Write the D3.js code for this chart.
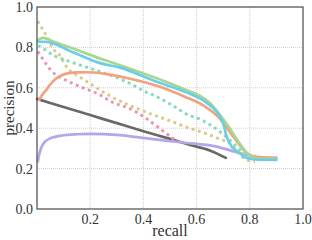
<!DOCTYPE html>
<html>
<head>
<meta charset="utf-8">
<script src="https://cdn.jsdelivr.net/npm/d3@7"></script>
<style>
  body { margin: 0; background: white; }
  svg { display: block; }
</style>
</head>
<body>
<svg id="chart"></svg>
<script>
var WIDTH = 312,
    HEIGHT = 240,
    MARGIN = {top: 7, left: 37, bottom: 31, right: 9},
    FONT = "'Liberation Serif', 'DejaVu Serif', serif",
    AXIS_COLOR = "#4a4a4a",
    GRID_COLOR = "#c8c8c8";

var ticks = [0.0, 0.2, 0.4, 0.6, 0.8, 1.0];

// solid curves
var grayR = [0, 0.1, 0.2, 0.3, 0.4, 0.5, 0.575, 0.65, 0.71];
var grayP = [0.545, 0.505, 0.465, 0.425, 0.385, 0.347, 0.317, 0.29, 0.253];

var purpleR = [0.003, 0.01, 0.025, 0.05, 0.1, 0.15, 0.2, 0.3, 0.4, 0.46, 0.556, 0.67, 0.744, 0.782, 0.85];
var purpleP = [0.235, 0.28, 0.325, 0.35, 0.365, 0.37, 0.372, 0.367, 0.352, 0.342, 0.328, 0.31, 0.284, 0.27, 0.25];

var orangeR = [0.008, 0.02, 0.035, 0.048, 0.073, 0.11, 0.15, 0.2, 0.274, 0.35, 0.45, 0.5, 0.556, 0.632, 0.68, 0.72, 0.757, 0.782, 0.81, 0.85, 0.9];
var orangeP = [0.54, 0.565, 0.59, 0.614, 0.647, 0.67, 0.676, 0.677, 0.665, 0.645, 0.61, 0.587, 0.556, 0.507, 0.457, 0.39, 0.325, 0.284, 0.262, 0.256, 0.255];

var greenR = [0.004, 0.023, 0.06, 0.135, 0.237, 0.312, 0.45, 0.556, 0.613, 0.65, 0.68, 0.72, 0.757, 0.78, 0.8, 0.83, 0.9];
var greenP = [0.836, 0.847, 0.83, 0.795, 0.745, 0.712, 0.647, 0.592, 0.56, 0.525, 0.478, 0.408, 0.333, 0.292, 0.265, 0.25, 0.248];

var blueR = [0.004, 0.03, 0.135, 0.237, 0.312, 0.45, 0.556, 0.632, 0.68, 0.7, 0.713, 0.732, 0.763, 0.782, 0.82, 0.9];
var blueP = [0.828, 0.828, 0.776, 0.722, 0.7, 0.63, 0.58, 0.531, 0.474, 0.424, 0.358, 0.31, 0.276, 0.256, 0.245, 0.243];

// dotted curves
var tealR = [0.004, 0.023, 0.06, 0.113, 0.237, 0.31, 0.36, 0.4, 0.45, 0.525, 0.556, 0.62, 0.68, 0.732, 0.77, 0.8, 0.85];
var tealP = [0.81, 0.795, 0.762, 0.735, 0.68, 0.645, 0.615, 0.585, 0.556, 0.5, 0.474, 0.44, 0.39, 0.333, 0.284, 0.258, 0.248];

var khakiR = [0.003, 0.023, 0.041, 0.06, 0.085, 0.113, 0.16, 0.2, 0.274, 0.4, 0.525, 0.556, 0.632, 0.68, 0.732, 0.763, 0.79, 0.82];
var khakiP = [0.93, 0.886, 0.845, 0.795, 0.762, 0.7, 0.655, 0.62, 0.56, 0.485, 0.424, 0.408, 0.375, 0.35, 0.317, 0.267, 0.243, 0.235];

var pinkR = [0.003, 0.023, 0.05, 0.113, 0.173, 0.237, 0.274, 0.36, 0.4, 0.46, 0.53];
var pinkP = [0.78, 0.74, 0.69, 0.635, 0.6, 0.565, 0.535, 0.49, 0.458, 0.4, 0.33];

var series = [
    {r: grayR, p: grayP, color: "#696969", dotted: false},
    {r: purpleR, p: purpleP, color: "#b4a6ec", dotted: false},
    {r: pinkR, p: pinkP, color: "#ef91b2", dotted: true},
    {r: khakiR, p: khakiP, color: "#d8ca89", dotted: true},
    {r: tealR, p: tealP, color: "#84dbb8", dotted: true},
    {r: orangeR, p: orangeP, color: "#f2a27f", dotted: false},
    {r: greenR, p: greenP, color: "#a5d991", dotted: false},
    {r: blueR, p: blueP, color: "#6ccde6", dotted: false}
];

var plotW = WIDTH - MARGIN.left - MARGIN.right,
    plotH = HEIGHT - MARGIN.top - MARGIN.bottom;

var x = d3.scaleLinear().domain([0, 1]).range([0, plotW]);
var y = d3.scaleLinear().domain([0, 1]).range([plotH, 0]);

var svg = d3.select("#chart")
    .attr("width", WIDTH)
    .attr("height", HEIGHT);

var g = svg.append("g")
    .attr("transform", "translate(" + MARGIN.left + "," + MARGIN.top + ")");

// grid
g.selectAll(".vgrid")
    .data(ticks.slice(1, -1))
  .enter().append("line")
    .attr("class", "vgrid")
    .attr("x1", function(d) { return x(d); })
    .attr("x2", function(d) { return x(d); })
    .attr("y1", 0)
    .attr("y2", plotH)
    .style("stroke", GRID_COLOR)
    .style("stroke-width", 0.9)
    .style("stroke-dasharray", "1,1");
g.selectAll(".hgrid")
    .data(ticks.slice(1, -1))
  .enter().append("line")
    .attr("class", "hgrid")
    .attr("y1", function(d) { return y(d); })
    .attr("y2", function(d) { return y(d); })
    .attr("x1", 0)
    .attr("x2", plotW)
    .style("stroke", GRID_COLOR)
    .style("stroke-width", 0.9)
    .style("stroke-dasharray", "1,1");

// curves
var line = d3.line()
    .x(function(d) { return x(d[0]); })
    .y(function(d) { return y(d[1]); })
    .curve(d3.curveMonotoneX);

series.forEach(function(s) {
    var pts = s.r.map(function(r, i) { return [r, s.p[i]]; });
    g.append("path")
        .datum(pts)
        .attr("d", line)
        .style("fill", "none")
        .style("stroke", s.color)
        .style("stroke-width", s.dotted ? 2.9 : 2.7)
        .style("stroke-dasharray", s.dotted ? "2.9,3.6" : null)
        .style("stroke-linecap", s.dotted ? "butt" : "round");
});

// frame
g.append("rect")
    .attr("width", plotW)
    .attr("height", plotH)
    .style("fill", "none")
    .style("stroke", AXIS_COLOR)
    .style("stroke-width", 1.2);

// tick labels
g.selectAll(".xlab")
    .data(ticks)
  .enter().append("text")
    .attr("class", "xlab")
    .attr("x", function(d) { return x(d); })
    .attr("y", plotH + 15)
    .style("font-family", FONT)
    .style("font-size", "14px")
    .style("fill", "#333")
    .style("text-anchor", "middle")
    .text(function(d) { return d === 0 ? "" : d3.format(".1f")(d); });
g.selectAll(".ylab")
    .data(ticks)
  .enter().append("text")
    .attr("class", "ylab")
    .attr("x", -4)
    .attr("y", function(d) { return y(d); })
    .attr("dy", "0.35em")
    .style("font-family", FONT)
    .style("font-size", "14px")
    .style("fill", "#333")
    .style("text-anchor", "end")
    .text(function(d) { return d3.format(".1f")(d); });

// axis titles
g.append("text")
    .attr("x", plotW / 2)
    .attr("y", plotH + 27)
    .style("font-family", FONT)
    .style("font-size", "16px")
    .style("fill", "#333")
    .style("text-anchor", "middle")
    .text("recall");
g.append("text")
    .attr("transform", "translate(" + (-23) + "," + (plotH / 2) + ") rotate(-90)")
    .style("font-family", FONT)
    .style("font-size", "15px")
    .style("fill", "#333")
    .style("text-anchor", "middle")
    .text("precision");
</script>
</body>
</html>
